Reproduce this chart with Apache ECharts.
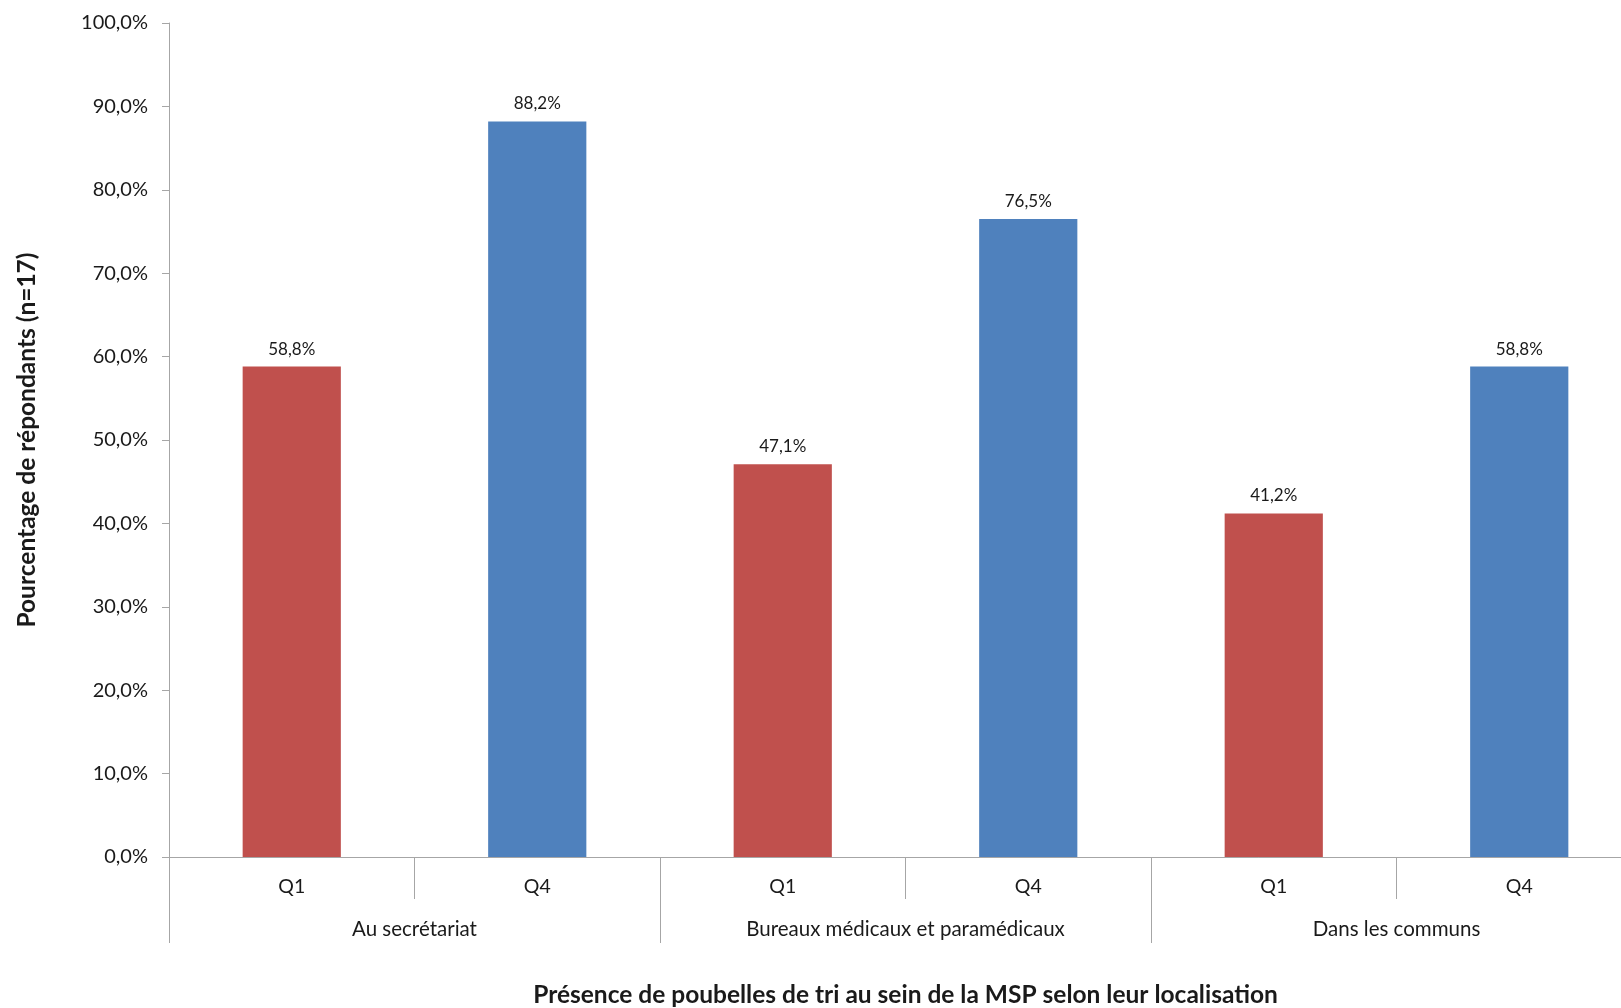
<!DOCTYPE html>
<html>
<head>
<meta charset="utf-8">
<script src="https://cdn.jsdelivr.net/npm/echarts@6/dist/echarts.min.js"></script>
<style>
html,body{margin:0;padding:0;background:#fff;}
#chart{width:1621px;height:1008px;}
</style>
</head>
<body>
<div id="chart"></div>
<script>
const groups = ['Au secrétariat', 'Bureaux médicaux et paramédicaux', 'Dans les communs'];
const periods = ['Q1', 'Q4', 'Q1', 'Q4', 'Q1', 'Q4'];
const values = [58.8, 88.2, 47.1, 76.5, 41.2, 58.8];
const yTicks = [0, 10, 20, 30, 40, 50, 60, 70, 80, 90, 100];

const periodColors = { Q1: '#C0504D', Q4: '#4F81BD' };
const axisColor = '#A6A6A6';
const textColor = '#1a1a1a';
const font = 'Lato';

const fmt = v => v.toFixed(1).replace('.', ',') + '%';

const chart = echarts.init(document.getElementById('chart'));
chart.setOption({
  animation: false,
  backgroundColor: '#ffffff',
  textStyle: { fontFamily: font },
  grid: { left: 169, width: 1473, top: 23, bottom: 151, containLabel: false, outerBoundsMode: 'none' },
  xAxis: [
    {
      type: 'category',
      data: periods,
      position: 'bottom',
      axisLine: { show: true, onZero: false, lineStyle: { color: axisColor, width: 1 } },
      axisTick: { show: true, length: 42, lineStyle: { color: axisColor } },
      axisLabel: { margin: 20, fontSize: 19.5, color: textColor, fontFamily: font },
      splitLine: { show: false }
    },
    {
      type: 'category',
      data: groups,
      position: 'bottom',
      axisLine: { show: true, onZero: false, lineStyle: { color: axisColor, width: 1 } },
      axisTick: { show: true, length: 86, lineStyle: { color: axisColor } },
      axisLabel: { margin: 62, fontSize: 20.5, color: textColor, fontFamily: font },
      splitLine: { show: false },
      name: 'Présence de poubelles de tri au sein de la MSP selon leur localisation',
      nameLocation: 'middle',
      nameGap: 126,
      nameTextStyle: { fontSize: 24.5, fontWeight: 'bold', color: textColor, fontFamily: font }
    }
  ],
  yAxis: {
    type: 'value',
    min: yTicks[0],
    max: yTicks[yTicks.length - 1],
    interval: yTicks[1] - yTicks[0],
    axisLine: { show: true, lineStyle: { color: axisColor, width: 1 } },
    axisTick: { show: true, length: 7, lineStyle: { color: axisColor } },
    splitLine: { show: false },
    axisLabel: { margin: 21, fontSize: 20, color: textColor, fontFamily: font, formatter: fmt },
    name: 'Pourcentage de répondants (n=17)',
    nameLocation: 'middle',
    nameRotate: 90,
    nameGap: 129,
    nameTextStyle: { fontSize: 24.5, fontWeight: 'bold', color: textColor, fontFamily: font }
  },
  series: [
    {
      type: 'bar',
      xAxisIndex: 0,
      yAxisIndex: 0,
      barWidth: '40%',
      data: values.map((v, i) => ({ value: v, itemStyle: { color: periodColors[periods[i]] } })),
      label: {
        show: true,
        position: 'top',
        distance: 9,
        fontSize: 17,
        color: textColor,
        fontFamily: font,
        formatter: p => fmt(p.value)
      }
    }
  ]
});
</script>
</body>
</html>
